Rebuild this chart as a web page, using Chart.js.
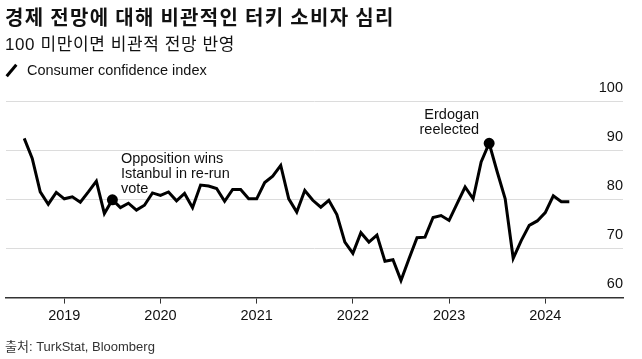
<!DOCTYPE html>
<html>
<head>
<meta charset="utf-8">
<script src="https://cdn.jsdelivr.net/npm/chart.js@4/dist/chart.umd.min.js"></script>
<style>
  body { margin: 0; background: #fff; }
  #wrap { position: relative; width: 642px; height: 359px; overflow: hidden; font-family: "Liberation Sans", "Noto Sans CJK KR", sans-serif; color: #111; }
  #chart { position: absolute; left: 0; top: 0; }
  .txt { position: absolute; left: 5px; white-space: nowrap; }
  #title { top: 4px; font-size: 20px; letter-spacing: 1.3px; font-weight: bold; font-family: "Noto Sans CJK KR", sans-serif; line-height: 26px; }
  #sub { top: 33px; font-size: 17px; letter-spacing: 0.6px; font-family: "Liberation Sans", "Noto Sans CJK KR", sans-serif; line-height: 24px; }
  #legend { top: 61px; font-size: 14.5px; line-height: 18px; }
  #legend .ic { display: inline-block; width: 3px; height: 15px; background: #000; transform: rotate(40deg); margin: 0 14px 0 5px; vertical-align: -3px; }
  #source { top: 338px; font-size: 13px; color: #333; line-height: 18px; }
</style>
</head>
<body>
<div id="wrap">
  <canvas id="chart" width="642" height="359"></canvas>
  <div class="txt" id="title">경제 전망에 대해 비관적인 터키 소비자 심리</div>
  <div class="txt" id="sub">100 미만이면 비관적 전망 반영</div>
  <div class="txt" id="legend"><span class="ic"></span>Consumer confidence index</div>
  <div class="txt" id="source">출처: TurkStat, Bloomberg</div>
</div>
<script>
// monthly readings, Aug 2018 .. Apr 2024
const startYear = 2018;
const startMonth = 8;
const confidence = [
  92.4, 88.3, 81.5, 79.0, 81.4, 80.1, 80.5, 79.4, 81.5, 83.7, 77.1, 79.9,
  78.3, 79.2, 77.8, 78.8, 81.3, 80.8, 81.5, 79.7, 81.2, 78.3, 82.9, 82.7,
  82.2, 79.6, 82.0, 82.0, 80.1, 80.1, 83.4, 84.7, 86.9, 80.1, 77.4, 81.8,
  79.8, 78.4, 79.8, 76.9, 71.3, 69.0, 73.2, 71.3, 72.7, 67.4, 67.7, 63.5,
  67.9, 72.2, 72.3, 76.3, 76.7, 75.7, 79.1, 82.5, 80.1, 87.6, 91.4, 85.6,
  80.1, 68.0, 71.6, 74.7, 75.6, 77.3, 80.7, 79.5, 79.5
];
const yearTicks = [2019, 2020, 2021, 2022, 2023, 2024];
const yTicks = [60, 70, 80, 90, 100];

// annotated months (index into confidence)
const notes = [
  { idx: 11, lines: ['Opposition wins', 'Istanbul in re-run', 'vote'], dx: 8.5, dy: -41, align: 'left' },
  { idx: 58, lines: ['Erdogan', 'reelected'], dx: -10, dy: -28, align: 'right' }
];

const points = confidence.map((v, i) => ({ x: startYear + (startMonth - 1 + i) / 12, y: v }));
const markerIdx = notes.map(n => n.idx);

const notePlugin = {
  id: 'notes',
  afterDatasetsDraw(chart) {
    const ctx = chart.ctx;
    const meta = chart.getDatasetMeta(0);
    ctx.save();
    ctx.font = '14.5px "Liberation Sans", Arial, sans-serif';
    ctx.fillStyle = '#111';
    ctx.textBaseline = 'middle';
    notes.forEach(n => {
      const pt = meta.data[n.idx];
      ctx.textAlign = n.align;
      n.lines.forEach((line, k) => {
        ctx.fillText(line, pt.x + n.dx, pt.y + n.dy + k * 15);
      });
    });
    ctx.restore();
  }
};

const ctx = document.getElementById('chart').getContext('2d');
const chart = new Chart(ctx, {
  type: 'line',
  data: {
    datasets: [{
      label: 'Consumer confidence index',
      data: points,
      borderColor: '#000',
      backgroundColor: '#000',
      borderWidth: 3,
      tension: 0,
      pointRadius: c => markerIdx.includes(c.dataIndex) ? 4 : 0,
      pointHoverRadius: 0
    }]
  },
  options: {
    responsive: false,
    animation: false,
    events: [],
    layout: { padding: { left: 6, right: 19, top: 101, bottom: 30 } },
    plugins: { legend: { display: false }, tooltip: { enabled: false } },
    scales: {
      x: {
        type: 'linear',
        min: 2018.394,
        max: 2024.808,
        afterBuildTicks: axis => { axis.ticks = yearTicks.map(v => ({ value: v })); },
        ticks: {
          callback: v => String(v),
          font: { family: '"Liberation Sans", Arial, sans-serif', size: 14.5 },
          color: '#111',
          padding: 4,
          maxRotation: 0
        },
        grid: { drawOnChartArea: false, drawTicks: true, tickLength: 6, color: '#333', lineWidth: 1 },
        border: { color: '#333', width: 1.5 }
      },
      y: {
        position: 'right',
        min: 60,
        max: 100,
        afterBuildTicks: axis => { axis.ticks = yTicks.map(v => ({ value: v })); },
        ticks: {
          mirror: true,
          padding: 0,
          labelOffset: -13.5,
          font: { family: '"Liberation Sans", Arial, sans-serif', size: 14.5 },
          color: '#111'
        },
        grid: { color: '#dcdcdc', lineWidth: 1, drawTicks: false },
        border: { display: false }
      }
    }
  },
  plugins: [notePlugin]
});
</script>
</body>
</html>
